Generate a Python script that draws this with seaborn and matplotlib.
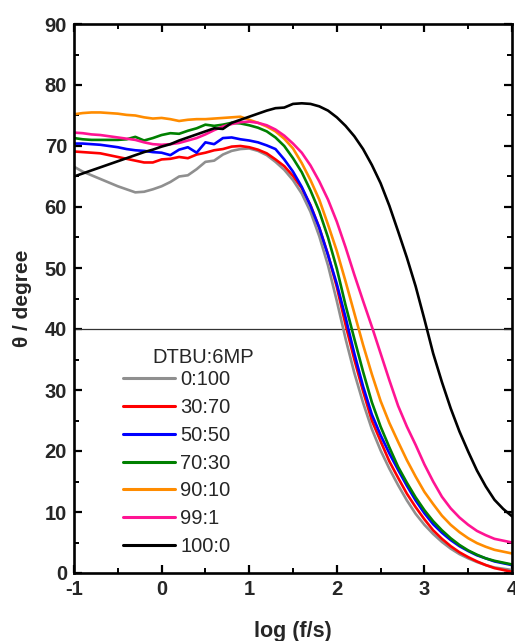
import numpy as np
import pandas as pd
import matplotlib
matplotlib.use("Agg")
import matplotlib.pyplot as plt
import seaborn as sns

# ---------------- data ----------------
log_f = [-1.0, -0.9, -0.8, -0.7, -0.6, -0.5, -0.4, -0.3, -0.2, -0.1,
         0.0, 0.1, 0.2, 0.3, 0.4, 0.5, 0.6, 0.7, 0.8, 0.9,
         1.0, 1.1, 1.2, 1.3, 1.4, 1.5, 1.6, 1.7, 1.8, 1.9,
         2.0, 2.1, 2.2, 2.3, 2.4, 2.5, 2.6, 2.7, 2.8, 2.9,
         3.0, 3.1, 3.2, 3.3, 3.4, 3.5, 3.6, 3.7, 3.8, 3.9, 4.0]

theta_0_100 = [66.6, 65.8, 65.2, 64.6, 64.0, 63.4, 62.9, 62.4, 62.5, 62.9,
               63.4, 64.1, 65.0, 65.2, 66.2, 67.4, 67.6, 68.6, 69.2, 69.5,
               69.6, 69.2, 68.5, 67.4, 66.1, 64.4, 62.2, 59.2, 55.2, 50.4,
               44.6, 38.4, 32.8, 27.9, 23.6, 20.1, 17.1, 14.4, 11.9, 9.7,
               7.9, 6.4, 5.1, 4.0, 3.1, 2.4, 1.8, 1.3, 0.9, 0.7, 0.5]

theta_30_70 = [69.1, 69.0, 68.9, 68.8, 68.5, 68.2, 67.9, 67.6, 67.3, 67.3,
               67.8, 67.9, 68.2, 68.0, 68.6, 68.9, 69.3, 69.5, 69.9, 70.0,
               69.8, 69.4, 68.8, 67.8, 66.7, 65.1, 63.1, 60.3, 56.6, 52.2,
               46.9, 40.7, 35.0, 29.8, 25.0, 21.6, 18.3, 15.6, 13.0, 10.8,
               8.8, 7.0, 5.6, 4.4, 3.4, 2.6, 1.9, 1.3, 0.8, 0.5, 0.2]

theta_50_50 = [70.4, 70.4, 70.3, 70.2, 70.0, 69.8, 69.5, 69.3, 69.2, 69.0,
               68.9, 68.5, 69.4, 69.8, 68.9, 70.6, 70.3, 71.3, 71.4, 71.1,
               70.9, 70.6, 70.1, 69.5, 67.8, 65.8, 63.3, 60.2, 56.6, 52.1,
               47.4, 41.9, 36.0, 30.6, 26.0, 22.6, 19.6, 16.9, 14.3, 11.9,
               9.8, 8.0, 6.6, 5.4, 4.4, 3.6, 2.9, 2.4, 1.9, 1.6, 1.3]

theta_70_30 = [71.3, 71.1, 71.0, 71.0, 71.0, 71.0, 71.1, 71.5, 70.9, 71.3,
               71.8, 72.1, 72.0, 72.5, 72.9, 73.5, 73.3, 73.5, 73.8, 73.7,
               73.4, 73.0, 72.4, 71.4, 70.0, 68.0, 65.7, 62.7, 59.3, 55.0,
               49.9, 43.9, 38.4, 33.0, 28.0, 24.0, 20.6, 17.4, 14.8, 12.4,
               10.3, 8.5, 7.0, 5.7, 4.6, 3.7, 3.0, 2.4, 2.0, 1.7, 1.4]

theta_90_10 = [75.2, 75.4, 75.5, 75.5, 75.4, 75.3, 75.1, 75.0, 74.7, 74.5,
               74.6, 74.4, 74.1, 74.3, 74.4, 74.4, 74.5, 74.6, 74.7, 74.8,
               74.3, 73.8, 73.2, 72.4, 71.2, 69.6, 67.2, 64.4, 61.2, 57.1,
               52.8, 47.8, 42.6, 37.4, 32.6, 28.2, 24.6, 21.5, 18.5, 15.8,
               13.3, 11.3, 9.4, 7.9, 6.7, 5.7, 4.9, 4.3, 3.8, 3.5, 3.2]

theta_99_1 = [72.2, 72.1, 71.9, 71.8, 71.6, 71.4, 71.2, 71.0, 70.6, 70.3,
              70.2, 70.3, 70.5, 70.9, 71.3, 71.9, 72.6, 73.2, 73.6, 73.9,
              74.0, 73.8, 73.4, 72.7, 71.7, 70.4, 68.9, 66.8, 64.2, 61.2,
              57.6, 53.4, 48.9, 44.6, 40.4, 36.0, 31.6, 27.4, 24.0, 21.0,
              17.8, 15.0, 12.5, 10.6, 9.1, 7.9, 6.9, 6.2, 5.6, 5.3, 5.0]

theta_100_0 = [65.0, 65.5, 66.0, 66.5, 67.0, 67.5, 68.0, 68.5, 69.0, 69.4,
               69.9, 70.3, 70.9, 71.4, 71.9, 72.4, 72.9, 72.8, 73.8, 74.3,
               74.8, 75.3, 75.8, 76.2, 76.3, 76.9, 77.0, 76.9, 76.5, 75.8,
               74.7, 73.3, 71.6, 69.5, 66.9, 63.9, 60.2, 56.0, 51.7, 47.0,
               41.6, 36.0, 31.3, 27.0, 23.2, 19.9, 16.8, 14.2, 12.0, 10.5, 9.3]

ratios = ["0:100", "30:70", "50:50", "70:30", "90:10", "99:1", "100:0"]
series = [theta_0_100, theta_30_70, theta_50_50, theta_70_30,
          theta_90_10, theta_99_1, theta_100_0]
colors = ["#8f8f8f", "#ff0000", "#0000ff", "#008000", "#ff8c00", "#ff1493", "#000000"]

x_ticks = [-1, 0, 1, 2, 3, 4]
y_ticks = [0, 10, 20, 30, 40, 50, 60, 70, 80, 90]
ref_line = 40

df = pd.concat(
    [pd.DataFrame({"log_f": log_f, "theta": s, "ratio": r}) for r, s in zip(ratios, series)],
    ignore_index=True,
)

# ---------------- figure ----------------
sns.set_theme(style="ticks")
plt.rcParams["font.family"] = ["Liberation Sans", "DejaVu Sans"]

fig = plt.figure(figsize=(5.15, 6.41), dpi=100)
ax = fig.add_axes([74 / 515, 1 - 573 / 641, 438 / 515, 549 / 641])

ax.axhline(ref_line, color="#333333", lw=0.9, zorder=1)

sns.lineplot(data=df, x="log_f", y="theta", hue="ratio", hue_order=ratios,
             palette=dict(zip(ratios, colors)), estimator=None, sort=True,
             linewidth=1.9, ax=ax, legend=True)

ax.set_xlim(-1, 4)
ax.set_ylim(0, 90)
ax.set_xticks(x_ticks)
ax.set_yticks(y_ticks)
ax.set_xticks(np.arange(-0.5, 4, 1.0), minor=True)
ax.set_yticks(np.arange(5, 90, 10), minor=True)
ax.set_xticklabels([str(v) for v in x_ticks], fontweight="bold", fontsize=14.5)
ax.set_yticklabels([str(v) for v in y_ticks], fontweight="bold", fontsize=14.5)

ax.tick_params(which="both", direction="in", top=True, right=True, color="black")
ax.tick_params(which="major", length=6, width=1.6, pad=5)
ax.tick_params(which="minor", length=3.5, width=1.4)
for sp in ax.spines.values():
    sp.set_visible(True)
    sp.set_linewidth(1.9)
    sp.set_color("black")

ax.set_xlabel("log (f/s)", fontweight="bold", fontsize=15.5, labelpad=16)
ax.set_ylabel("θ / degree", fontweight="bold", fontsize=15, labelpad=9)

handles, labels = ax.get_legend_handles_labels()
leg = ax.legend(handles, labels, loc="upper left",
                bbox_to_anchor=((123 - 74) / 438, (573 - 370) / 549),
                frameon=False, fontsize=14.5, handlelength=2.6, handletextpad=0.25,
                labelspacing=0.44, borderpad=0, borderaxespad=0)
for ln in leg.get_lines():
    ln.set_linewidth(2.2)

ax.text(-0.10, 35.4, "DTBU:6MP", fontsize=14.5, ha="left", va="center")

fig.savefig("out.png", dpi=100)
